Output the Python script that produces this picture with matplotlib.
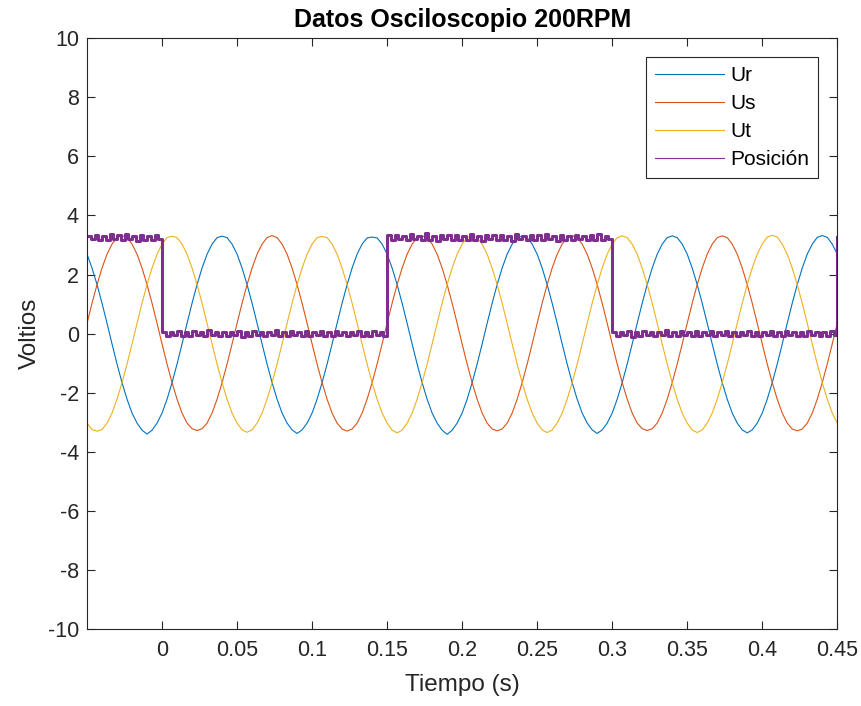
"""Osciloscopio: tensiones de fase y señal de posición a 200 RPM."""
import numpy as np
import matplotlib
matplotlib.use('Agg')
import matplotlib.pyplot as plt

plt.rcParams['font.family'] = ['Liberation Sans', 'DejaVu Sans']
plt.rcParams['axes.unicode_minus'] = False

t_u = np.linspace(-0.05, 0.45, 151)

ur = [2.69, 2.22, 1.66, 1.03, 0.35, -0.35, -1.03, -1.66, -2.22, -2.69, -3.03, -3.27, -3.40, -3.27, -3.03,
      -2.69, -2.22, -1.66, -1.03, -0.35, 0.35, 1.03, 1.66, 2.22, 2.69, 3.03, 3.25,
      3.30, 3.25, 3.03, 2.69, 2.22, 1.66, 1.03, 0.35, -0.35, -1.03, -1.66, -2.22, -2.69, -3.03, -3.26,
      -3.38, -3.26, -3.03, -2.69, -2.22, -1.66, -1.03, -0.35, 0.35, 1.03, 1.66, 2.22, 2.69, 3.03, 3.24,
      3.27, 3.24, 3.03, 2.69, 2.22, 1.66, 1.03, 0.35, -0.35, -1.03, -1.66, -2.22, -2.69, -3.03, -3.27,
      -3.41, -3.27, -3.03, -2.69, -2.22, -1.66, -1.03, -0.35, 0.35, 1.03, 1.66, 2.22, 2.69, 3.03, 3.25,
      3.30, 3.25, 3.03, 2.69, 2.22, 1.66, 1.03, 0.35, -0.35, -1.03, -1.66, -2.22, -2.69, -3.03, -3.26,
      -3.38, -3.26, -3.03, -2.69, -2.22, -1.66, -1.03, -0.35, 0.35, 1.03, 1.66, 2.22, 2.69, 3.03, 3.25,
      3.31, 3.25, 3.03, 2.69, 2.22, 1.66, 1.03, 0.35, -0.35, -1.03, -1.66, -2.22, -2.69, -3.03, -3.26,
      -3.36, -3.26, -3.03, -2.69, -2.22, -1.66, -1.03, -0.35, 0.35, 1.03, 1.66, 2.22, 2.69, 3.03, 3.26,
      3.32, 3.26, 3.03, 2.69]

us = [0.35, 1.03, 1.66, 2.22, 2.69, 3.03, 3.25,
      3.32, 3.25, 3.03, 2.69, 2.22, 1.66, 1.03, 0.35, -0.35, -1.03, -1.66, -2.22, -2.69, -3.03, -3.22,
      -3.28, -3.22, -3.03, -2.69, -2.22, -1.66, -1.03, -0.35, 0.35, 1.03, 1.66, 2.22, 2.69, 3.03, 3.25,
      3.32, 3.25, 3.03, 2.69, 2.22, 1.66, 1.03, 0.35, -0.35, -1.03, -1.66, -2.22, -2.69, -3.03, -3.23,
      -3.30, -3.23, -3.03, -2.69, -2.22, -1.66, -1.03, -0.35, 0.35, 1.03, 1.66, 2.22, 2.69, 3.03, 3.25,
      3.31, 3.25, 3.03, 2.69, 2.22, 1.66, 1.03, 0.35, -0.35, -1.03, -1.66, -2.22, -2.69, -3.03, -3.23,
      -3.29, -3.23, -3.03, -2.69, -2.22, -1.66, -1.03, -0.35, 0.35, 1.03, 1.66, 2.22, 2.69, 3.03, 3.25,
      3.32, 3.25, 3.03, 2.69, 2.22, 1.66, 1.03, 0.35, -0.35, -1.03, -1.66, -2.22, -2.69, -3.03, -3.22,
      -3.28, -3.22, -3.03, -2.69, -2.22, -1.66, -1.03, -0.35, 0.35, 1.03, 1.66, 2.22, 2.69, 3.03, 3.25,
      3.31, 3.25, 3.03, 2.69, 2.22, 1.66, 1.03, 0.35, -0.35, -1.03, -1.66, -2.22, -2.69, -3.03, -3.23,
      -3.29, -3.23, -3.03, -2.69, -2.22, -1.66, -1.03, -0.35, 0.35]

ut = [-3.03, -3.25, -3.30, -3.25, -3.03, -2.69, -2.22, -1.66, -1.03, -0.35, 0.35, 1.03, 1.66, 2.22,
      2.69, 3.03, 3.25,
      3.30, 3.25, 3.03, 2.69, 2.22, 1.66, 1.03, 0.35, -0.35, -1.03, -1.66, -2.22, -2.69, -3.03, -3.26,
      -3.34, -3.26, -3.03, -2.69, -2.22, -1.66, -1.03, -0.35, 0.35, 1.03, 1.66, 2.22, 2.69, 3.03, 3.25,
      3.29, 3.25, 3.03, 2.69, 2.22, 1.66, 1.03, 0.35, -0.35, -1.03, -1.66, -2.22, -2.69, -3.03, -3.27,
      -3.36, -3.27, -3.03, -2.69, -2.22, -1.66, -1.03, -0.35, 0.35, 1.03, 1.66, 2.22, 2.69, 3.03, 3.25,
      3.30, 3.25, 3.03, 2.69, 2.22, 1.66, 1.03, 0.35, -0.35, -1.03, -1.66, -2.22, -2.69, -3.03, -3.26,
      -3.35, -3.26, -3.03, -2.69, -2.22, -1.66, -1.03, -0.35, 0.35, 1.03, 1.66, 2.22, 2.69, 3.03, 3.25,
      3.31, 3.25, 3.03, 2.69, 2.22, 1.66, 1.03, 0.35, -0.35, -1.03, -1.66, -2.22, -2.69, -3.03, -3.26,
      -3.35, -3.26, -3.03, -2.69, -2.22, -1.66, -1.03, -0.35, 0.35, 1.03, 1.66, 2.22, 2.69, 3.03, 3.27,
      3.33, 3.27, 3.03, 2.69, 2.22, 1.66, 1.03, 0.35, -0.35, -1.03, -1.66, -2.22, -2.69, -3.03]

# señal de posición (paso 0.0025 s), con el ruido del canal
t_pos = np.linspace(-0.05, 0.45, 201)

pos = [3.31, 3.19, 3.34, 3.18, 3.30, 3.16, 3.36, 3.20, 3.33, 3.17,
       3.38, 3.19, 3.31, 3.15, 3.34, 3.18, 3.32, 3.17, 3.33, 3.20,
       0.06, -0.08, 0.07, -0.06, 0.09, -0.07, 0.05, -0.09, 0.08, -0.05,
       0.07, -0.08, 0.11, -0.06, 0.05, -0.09, 0.07, -0.07, 0.06, -0.05,
       0.08, -0.10, 0.06, -0.07, 0.09, -0.06, 0.05, -0.08, 0.07, -0.06,
       0.12, -0.07, 0.06, -0.09, 0.08, -0.05, 0.06, -0.08, 0.09, -0.07,
       0.05, -0.06, 0.08, -0.09, 0.07, -0.07, 0.10, -0.06, 0.06, -0.08,
       0.07, -0.05, 0.08, -0.09, 0.06, -0.07, 0.09, -0.06, 0.05, -0.08,
       3.33, 3.18, 3.35, 3.19, 3.31, 3.16, 3.36, 3.19, 3.32, 3.17,
       3.39, 3.18, 3.31, 3.14, 3.34, 3.19, 3.33, 3.17, 3.35, 3.16,
       3.32, 3.18, 3.37, 3.17, 3.31, 3.15, 3.34, 3.20, 3.33, 3.16,
       3.35, 3.18, 3.32, 3.14, 3.36, 3.19, 3.31, 3.17, 3.34, 3.18,
       3.33, 3.16, 3.37, 3.19, 3.32, 3.15, 3.34, 3.18, 3.31, 3.17,
       3.35, 3.19, 3.32, 3.16, 3.33, 3.18, 3.36, 3.17, 3.31, 3.19,
       0.07, -0.09, 0.06, -0.06, 0.08, -0.11, 0.05, -0.07, 0.09, -0.06,
       0.06, -0.08, 0.07, -0.05, 0.11, -0.07, 0.06, -0.09, 0.08, -0.06,
       0.05, -0.08, 0.09, -0.07, 0.06, -0.05, 0.08, -0.09, 0.07, -0.06,
       0.09, -0.07, 0.05, -0.08, 0.07, -0.06, 0.08, -0.09, 0.06, -0.07,
       0.07, -0.06, 0.09, -0.08, 0.05, -0.07, 0.08, -0.06, 0.07, -0.09,
       0.06, -0.07, 0.08, -0.05, 0.07, -0.08, 0.06, -0.07, 0.09, -0.06,
       3.27]

x_ticks = [0, 0.05, 0.1, 0.15, 0.2, 0.25, 0.3, 0.35, 0.4, 0.45]
x_ticklabels = ['0', '0.05', '0.1', '0.15', '0.2', '0.25', '0.3', '0.35', '0.4', '0.45']

fig = plt.figure(figsize=(8.62, 7.06), dpi=100)
ax = fig.add_axes([0.1013, 0.1091, 0.87, 0.8367])

ax.plot(t_u, ur, color='#0072BD', lw=0.8, label='Ur')
ax.plot(t_u, us, color='#D95319', lw=0.8, label='Us')
ax.plot(t_u, ut, color='#EDB120', lw=0.8, label='Ut')
ax.plot(t_pos, pos, color='#7E2F8E', lw=2.2, drawstyle='steps-post', label='Posición')

ax.set_xlim(-0.0498, 0.45)
ax.set_ylim(-10, 10)
ax.set_xticks(x_ticks)
ax.set_xticklabels(x_ticklabels)
ax.set_yticks(np.arange(-10, 11, 2))

dark = '#262626'
ax.tick_params(direction='in', length=6, width=0.8, colors=dark, labelsize=15.5,
               top=True, right=True)
ax.tick_params(axis='x', pad=8)
ax.tick_params(axis='y', pad=6)
for sp in ax.spines.values():
    sp.set_color(dark)
    sp.set_linewidth(0.8)

ax.set_title('Datos Osciloscopio 200RPM', fontsize=18, fontweight='bold', color='black', pad=8)
ax.set_xlabel('Tiempo (s)', fontsize=17.5, color=dark, labelpad=9)
ax.set_ylabel('Voltios', fontsize=17.5, color=dark, labelpad=5)

leg = ax.legend(loc='upper right', bbox_to_anchor=(0.974, 0.968), borderaxespad=0,
                fontsize=15, fancybox=False, framealpha=1, edgecolor=dark,
                handlelength=3.3, labelspacing=0.44, handletextpad=0.3, borderpad=0.42)
leg.get_frame().set_linewidth(0.8)
leg.get_lines()[3].set_linewidth(0.8)

fig.savefig('out.png', dpi=100)
